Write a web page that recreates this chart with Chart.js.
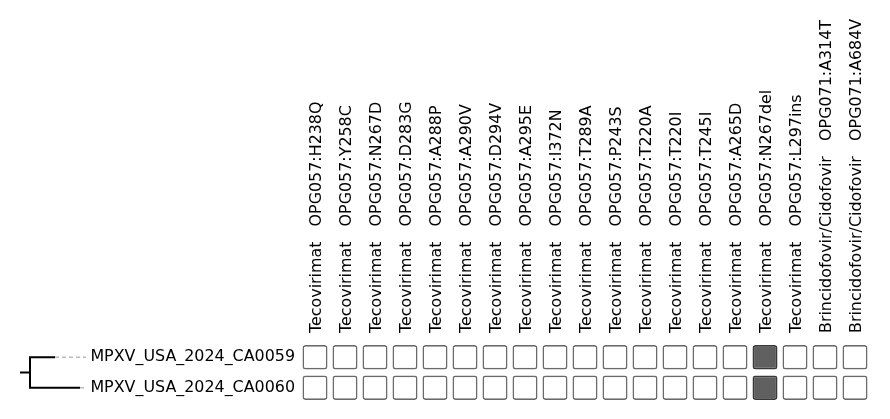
<!DOCTYPE html>
<html><head><meta charset="utf-8">
<script src="https://cdn.jsdelivr.net/npm/chart.js@4/dist/chart.umd.min.js"></script>
<style>
html,body{margin:0;padding:0;background:#fff;}
#wrap{position:relative;width:890px;height:419px;background:#fff;}
canvas{position:absolute;left:0;top:0;}
</style></head><body>
<div id="wrap">
<canvas id="grid" width="890" height="419"></canvas>
<canvas id="tree" width="90" height="419"></canvas>
</div>
<script>
// ---- data ----
const drugs = [
  'Tecovirimat','Tecovirimat','Tecovirimat','Tecovirimat','Tecovirimat','Tecovirimat',
  'Tecovirimat','Tecovirimat','Tecovirimat','Tecovirimat','Tecovirimat','Tecovirimat',
  'Tecovirimat','Tecovirimat','Tecovirimat','Tecovirimat','Tecovirimat',
  'Brincidofovir/Cidofovir','Brincidofovir/Cidofovir'
];
const mutations = [
  'OPG057:H238Q','OPG057:Y258C','OPG057:N267D','OPG057:D283G','OPG057:A288P','OPG057:A290V',
  'OPG057:D294V','OPG057:A295E','OPG057:I372N','OPG057:T289A','OPG057:P243S','OPG057:T220A',
  'OPG057:T220I','OPG057:T245I','OPG057:A265D','OPG057:N267del','OPG057:L297ins',
  'OPG071:A314T','OPG071:A684V'
];
const samples = ['MPXV_USA_2024_CA0059', 'MPXV_USA_2024_CA0060'];
const presenceCA0059 = [0,0,0,0,0,0,0,0,0,0,0,0,0,0,0,1,0,0,0];
const presenceCA0060 = [0,0,0,0,0,0,0,0,0,0,0,0,0,0,0,1,0,0,0];
// tree (branch lengths, arbitrary units)
const treeRootStub = 10;
const treeLeafDepth = [25, 50];
const treeTipAlign = 56;

// ---- grid chart ----
const FONT = {family: 'DejaVu Sans', size: 15.9};
const LINE_H = FONT.size * 1.2;
const colLabels = drugs.map((d, i) => d + '   ' + mutations[i]);
const presence = [presenceCA0059, presenceCA0060];

const gridDatasets = presence.map((row, r) => ({
  label: samples[r],
  data: row.map(() => [r - 0.4, r + 0.4]),
  backgroundColor: row.map(v => v ? '#606060' : '#ffffff'),
  borderColor: row.map(v => v ? '#383838' : '#6a6a6a'),
  borderWidth: 1.6,
  borderRadius: 3,
  borderSkipped: false,
  barPercentage: 25 / 30,
  categoryPercentage: 1,
  grouped: false
}));

new Chart(document.getElementById('grid'), {
  type: 'bar',
  data: {labels: colLabels, datasets: gridDatasets},
  options: {
    responsive: false, animation: false, events: [],
    layout: {padding: {left: 0, top: 0, right: 20, bottom: 16}},
    plugins: {legend: {display: false}, tooltip: {enabled: false}},
    scales: {
      x: {
        type: 'category', position: 'top', offset: true,
        grid: {display: false, drawTicks: false}, border: {display: false},
        ticks: {autoSkip: false, minRotation: 90, maxRotation: 90, padding: 9, labelOffset: LINE_H + 1.5,
                color: '#000', font: FONT},
        afterFit(s) { s.height = 342; s.paddingLeft = 0; s.paddingRight = 0; }
      },
      y: {
        type: 'linear', reverse: true, min: -0.5, max: 1.5,
        grid: {display: false, drawTicks: false}, border: {display: false},
        afterBuildTicks(s) { s.ticks = samples.map((_, i) => ({value: i})); },
        ticks: {callback: v => samples[v], padding: 5, color: '#000', font: FONT},
        afterFit(s) { s.width = 300; s.paddingTop = 0; s.paddingBottom = 0; }
      }
    }
  }
});

// ---- tree chart ----
const solid = {showLine: true, pointRadius: 0, borderColor: '#000', borderWidth: 2, borderJoinStyle: 'miter', tension: 0, fill: false};
const dashed = {showLine: true, pointRadius: 0, borderColor: '#bbbbbb', borderWidth: 1.5, borderDash: [4, 3], tension: 0, fill: false};
const treeDatasets = [
  ...samples.map((_, i) => Object.assign({data: [{x: treeLeafDepth[i], y: i}, {x: treeTipAlign, y: i}]}, dashed)),
  Object.assign({data: [{x: -treeRootStub, y: 0.5}, {x: 0, y: 0.5}]}, solid),
  Object.assign({data: [{x: treeLeafDepth[0], y: 0}, {x: 0, y: 0}, {x: 0, y: 1}, {x: treeLeafDepth[1], y: 1}]}, solid)
];

new Chart(document.getElementById('tree'), {
  type: 'scatter',
  data: {datasets: treeDatasets},
  options: {
    responsive: false, animation: false, events: [],
    layout: {padding: {left: 20, right: 4, top: 342, bottom: 16}},
    plugins: {legend: {display: false}, tooltip: {enabled: false}},
    scales: {
      x: {type: 'linear', display: false, min: -treeRootStub, max: treeTipAlign},
      y: {type: 'linear', display: false, reverse: true, min: -0.5, max: 1.5}
    }
  }
});
</script>
</body></html>
